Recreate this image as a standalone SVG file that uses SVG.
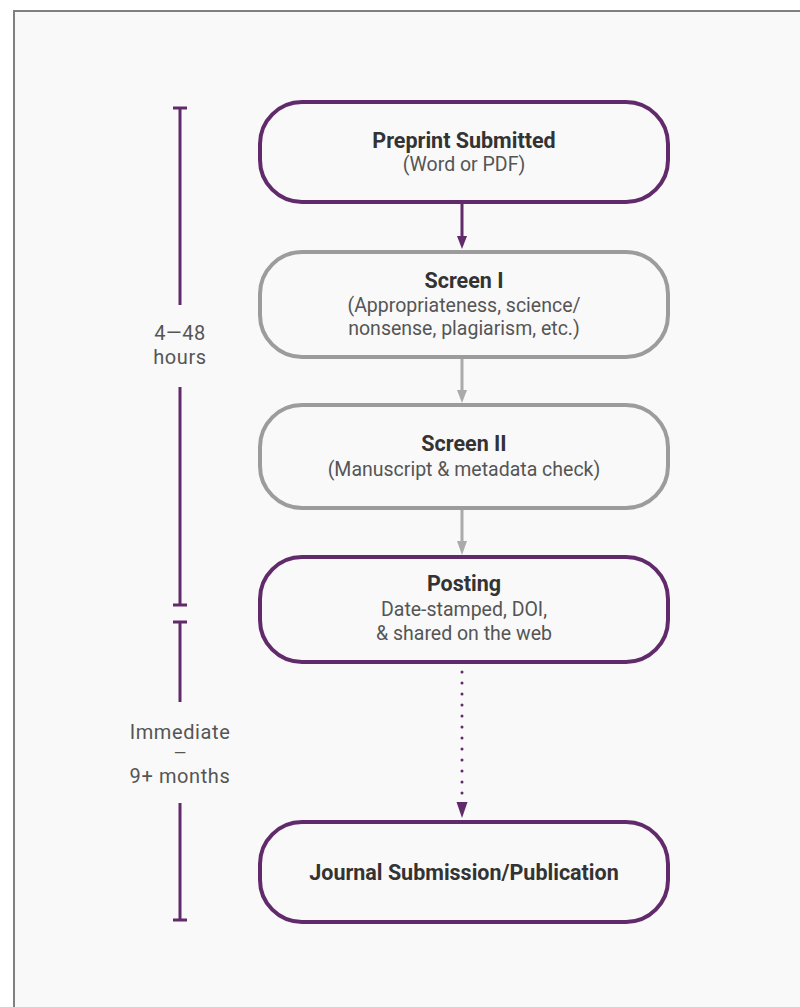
<svg xmlns="http://www.w3.org/2000/svg" width="800" height="1007" viewBox="0 0 800 1007">
<defs>
<style>
.bg{fill:#f9f9f9;stroke:#808080;stroke-width:2}
.node{fill:none;stroke-width:4}
.p{stroke:#612a6b}
.g{stroke:#9c9c9c}
.t{font-family:Roboto,"Liberation Sans",sans-serif;font-weight:bold;font-size:21.5px;fill:#333;text-anchor:middle}
.s{font-family:Roboto,"Liberation Sans",sans-serif;font-size:19.5px;fill:#555;text-anchor:middle}
.lab{font-family:Roboto,"Liberation Sans",sans-serif;font-size:20px;fill:#555;text-anchor:middle;letter-spacing:0.6px}
.tl{stroke:#612a6b;stroke-width:3;fill:none}
.con{fill:none;stroke-width:3}
</style>
</defs>
<rect class="bg" x="14" y="11" width="800" height="1010"/>

<g id="timeline">
<path class="tl" d="M180,108 V305 M173,108 H187 M180,387 V605 M173,605 H187"/>
<text class="lab" x="180" y="340">4—48</text>
<text class="lab" x="180" y="364">hours</text>
<path class="tl" d="M180,622 V702 M173,622 H187 M180,803 V920 M173,920 H187"/>
<text class="lab" x="180" y="739">Immediate</text>
<text class="lab" x="180" y="759" style="font-size:16px;letter-spacing:0">—</text>
<text class="lab" x="180" y="783">9+ months</text>
</g>

<g id="connectors">
<line class="con" x1="462" y1="203" x2="462" y2="238" stroke="#612a6b"/>
<path d="M457,236 L467,236 L462,249 Z" fill="#612a6b"/>
<line class="con" x1="462" y1="358" x2="462" y2="392" stroke="#aaaaaa"/>
<path d="M457,390 L467,390 L462,403 Z" fill="#aaaaaa"/>
<line class="con" x1="462" y1="509" x2="462" y2="543" stroke="#aaaaaa"/>
<path d="M457,541 L467,541 L462,555 Z" fill="#aaaaaa"/>
<line class="con" x1="462" y1="672" x2="462" y2="797" stroke="#612a6b" stroke-width="3.5" stroke-linecap="round" stroke-dasharray="0 11"/>
<path d="M456.5,802 L467.5,802 L462,818 Z" fill="#612a6b"/>
</g>

<g id="n1">
<rect class="node p" x="260" y="102" width="408" height="100" rx="42"/>
<text class="t" x="464" y="148">Preprint Submitted</text>
<text class="s" x="464" y="171">(Word or PDF)</text>
</g>
<g id="n2">
<rect class="node g" x="260" y="252" width="408" height="105" rx="42"/>
<text class="t" x="464" y="288">Screen I</text>
<text class="s" x="464" y="312">(Appropriateness, science/</text>
<text class="s" x="464" y="335">nonsense, plagiarism, etc.)</text>
</g>
<g id="n3">
<rect class="node g" x="260" y="405" width="408" height="103" rx="42"/>
<text class="t" x="464" y="451">Screen II</text>
<text class="s" x="464" y="476">(Manuscript &amp; metadata check)</text>
</g>
<g id="n4">
<rect class="node p" x="260" y="557" width="408" height="105" rx="42"/>
<text class="t" x="464" y="591">Posting</text>
<text class="s" x="464" y="616">Date-stamped, DOI,</text>
<text class="s" x="464" y="640">&amp; shared on the web</text>
</g>
<g id="n5">
<rect class="node p" x="260" y="822" width="408" height="100" rx="42"/>
<text class="t" x="464" y="880">Journal Submission/Publication</text>
</g>
</svg>
